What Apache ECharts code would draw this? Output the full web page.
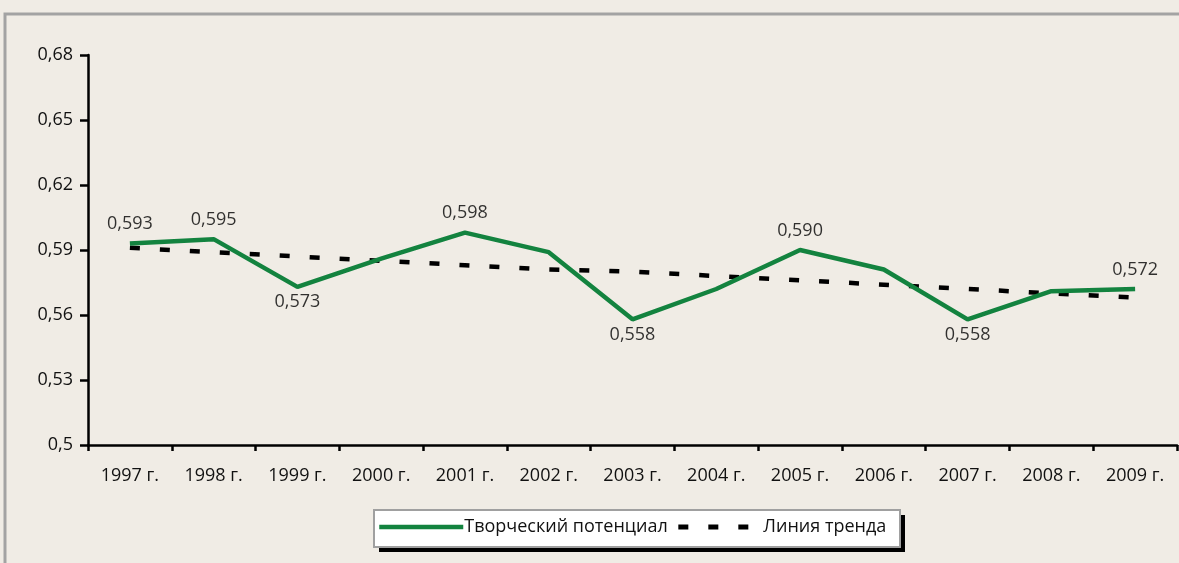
<!DOCTYPE html>
<html>
<head>
<meta charset="utf-8">
<script src="https://cdn.jsdelivr.net/npm/echarts@6/dist/echarts.min.js"></script>
<style>
  html, body { margin: 0; padding: 0; background: #f0ece5; }
  #chart { width: 1179px; height: 563px; }
</style>
</head>
<body>
<div id="chart"></div>
<script>
"use strict";

var years = ['1997 г.', '1998 г.', '1999 г.', '2000 г.', '2001 г.', '2002 г.', '2003 г.',
             '2004 г.', '2005 г.', '2006 г.', '2007 г.', '2008 г.', '2009 г.'];
var potential = [0.593, 0.595, 0.573, 0.586, 0.598, 0.589, 0.558, 0.572, 0.590, 0.581, 0.558, 0.571, 0.572];
var trend = [0.591, 0.589, 0.587, 0.585, 0.583, 0.581, 0.580, 0.578, 0.576, 0.574, 0.572, 0.570, 0.568];
// which points carry a value label, and where
var labelPos = ['top', 'top', 'bottom', null, 'top', null, 'bottom', null, 'top', null, 'bottom', null, 'top'];
var yTicks = [0.5, 0.53, 0.56, 0.59, 0.62, 0.65, 0.68];

var font = 'Open Sans';
var green = '#13833f';
var fs = 18;

var chart = echarts.init(document.getElementById('chart'));

// labels go on an invisible scatter so the line keeps a plain legend icon
var labelData = potential.map(function (v, i) {
    if (!labelPos[i]) {
        return { value: v, label: { show: false } };
    }
    return {
        value: v,
        label: { show: true, position: labelPos[i], distance: labelPos[i] === 'top' ? 10 : 6 }
    };
});

var option = {
    backgroundColor: '#f0ece5',
    animation: false,
    textStyle: { fontFamily: font },
    graphic: [
        {
            type: 'polyline',
            shape: { points: [[5, 563], [5, 14], [1179, 14]] },
            style: { stroke: '#a3a3a3', lineWidth: 3, fill: null }
        },
        // legend box: hard black shadow, then white panel with grey edge
        {
            type: 'rect',
            shape: { x: 379, y: 515, width: 526, height: 37 },
            style: { fill: '#000' }
        },
        {
            type: 'rect',
            shape: { x: 374, y: 510, width: 526, height: 37 },
            style: { fill: '#fff', stroke: '#a0a0a0', lineWidth: 2 }
        }
    ],
    grid: {
        left: 88,
        right: 2,
        top: 55,
        bottom: 118
    },
    legend: {
        left: 374,
        top: 510,
        padding: [8, 11, 8, 3],
        itemGap: 8,
        itemWidth: 84,
        itemHeight: 14,
        itemStyle: { color: 'rgba(0,0,0,0)', borderWidth: 0, opacity: 0 },
        textStyle: { fontFamily: font, fontSize: fs, color: '#111', padding: [0, 0, 0, -4] },
        data: [
            { name: 'Творческий потенциал', lineStyle: { width: 4.5, color: green } },
            { name: 'Линия тренда', lineStyle: { width: 5, color: '#000', type: [10, 20] } }
        ]
    },
    xAxis: {
        type: 'category',
        data: years,
        boundaryGap: true,
        axisLine: { lineStyle: { color: '#000', width: 2.5 } },
        axisTick: { show: true, length: 6, lineStyle: { color: '#000', width: 2.5 } },
        axisLabel: { color: '#111', fontSize: fs, fontFamily: font, margin: 22 }
    },
    yAxis: {
        type: 'value',
        min: yTicks[0],
        max: yTicks[yTicks.length - 1],
        interval: 0.03,
        splitLine: { show: false },
        axisLine: { show: true, lineStyle: { color: '#000', width: 2.5 } },
        axisTick: { show: true, length: 8, lineStyle: { color: '#000', width: 2.5 } },
        axisLabel: {
            color: '#111',
            fontSize: fs,
            fontFamily: font,
            margin: 15,
            formatter: function (v) {
                return String(parseFloat(v.toFixed(2))).replace('.', ',');
            }
        }
    },
    series: [
        {
            name: 'Творческий потенциал',
            type: 'line',
            data: potential,
            symbol: 'none',
            z: 3,
            lineStyle: { color: green, width: 4.5 },
            itemStyle: { color: green }
        },
        {
            name: 'Линия тренда',
            type: 'line',
            data: trend,
            symbol: 'none',
            z: 2,
            lineStyle: { color: '#000', width: 4.5, type: [10, 20] },
            itemStyle: { color: '#000' }
        },
        {
            name: 'labels',
            type: 'scatter',
            data: labelData,
            symbolSize: 1,
            z: 4,
            silent: true,
            itemStyle: { color: 'rgba(0,0,0,0)' },
            label: {
                color: '#000',
                fontSize: fs,
                fontFamily: font,
                formatter: function (p) {
                    return p.value.toFixed(3).replace('.', ',');
                }
            }
        }
    ]
};

chart.setOption(option, true);
</script>
</body>
</html>
